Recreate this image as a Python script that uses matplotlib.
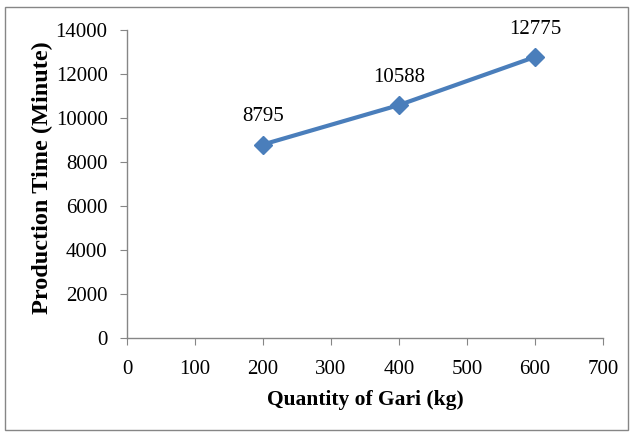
import matplotlib
matplotlib.use("Agg")
import matplotlib.pyplot as plt
from matplotlib.patches import Rectangle

quantity = [200, 400, 600]
prod_time = [8795, 10588, 12775]
x_ticks = [0, 100, 200, 300, 400, 500, 600, 700]
y_ticks = [0, 2000, 4000, 6000, 8000, 10000, 12000, 14000]

plt.rcParams['font.family'] = ['Liberation Serif', 'DejaVu Serif']

W, H = 633, 437
fig = plt.figure(figsize=(W / 100, H / 100), dpi=100)
ax = fig.add_axes([127 / W, 1 - 338 / H, (603 - 127) / W, (338 - 30) / H])

line_color = '#4A7EBB'
ax.plot(quantity, prod_time, color=line_color, lw=3, marker='D', ms=9,
        markerfacecolor=line_color, markeredgecolor=line_color, zorder=3)
for x, y in zip(quantity, prod_time):
    ax.annotate(f"{y}", (x, y), xytext=(0, 20), textcoords='offset points',
                ha='center', va='center', fontsize=15)

ax.set_xlim(0, 700)
ax.set_ylim(0, 14000)
ax.set_xticks(x_ticks)
ax.set_yticks(y_ticks)
ax.tick_params(labelsize=15, length=5, color='#868686', direction='out')
ax.tick_params(axis='x', pad=11)
ax.tick_params(axis='y', pad=9)
for s in ['top', 'right']:
    ax.spines[s].set_visible(False)
for s in ['left', 'bottom']:
    ax.spines[s].set_color('#868686')
    ax.spines[s].set_linewidth(1)

ax.set_xlabel('Quantity of Gari (kg)', fontsize=15.5, fontweight='bold', labelpad=8)
ax.set_ylabel('Production Time (Minute)', fontsize=17.5, fontweight='bold',
              va='center')
ax.yaxis.set_label_coords((42 - 127) / 476, (338 - 177.5) / 308)

fig.patches.append(Rectangle((5 / W, 1 - 430 / H), 623 / W, 423 / H,
                             transform=fig.transFigure, fill=False,
                             edgecolor='#868686', lw=1))

fig.savefig('out.png', dpi=100)
